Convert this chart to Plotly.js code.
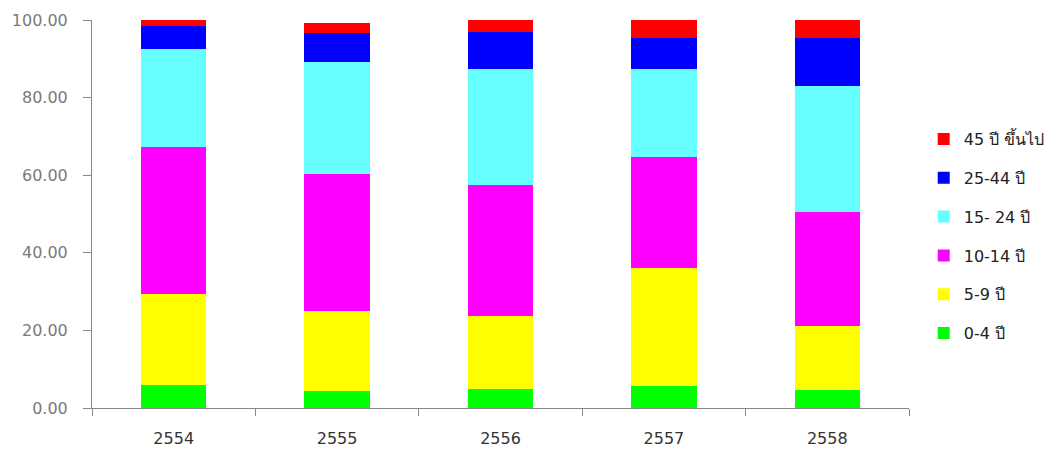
<!DOCTYPE html>
<html>
<head>
<meta charset="utf-8">
<script src="https://cdn.plot.ly/plotly-3.0.1.min.js"></script>
<style>html,body{margin:0;padding:0;background:#fff;}#chart{width:1049px;height:450px;}</style>
</head>
<body>
<div id="chart"></div>
<script>
var years = ["2554", "2555", "2556", "2557", "2558"];
var seriesNames = ["0-4 ปี", "5-9 ปี", "10-14 ปี", "15- 24 ปี", "25-44 ปี", "45 ปี ขึ้นไป"];
var age0_4   = [6.0, 4.5, 5.0, 5.7, 4.7];
var age5_9   = [23.5, 20.4, 18.8, 30.3, 16.5];
var age10_14 = [37.7, 35.4, 33.6, 28.8, 29.4];
var age15_24 = [25.3, 28.8, 30.0, 22.6, 32.5];
var age25_44 = [5.9, 7.6, 9.4, 8.0, 12.3];
var age45up  = [1.5, 2.5, 3.2, 4.6, 4.6];
var yTicks = [0, 20, 40, 60, 80, 100];

var seriesValues = [age0_4, age5_9, age10_14, age15_24, age25_44, age45up];
var colors = ["#00ff00", "#ffff00", "#ff00ff", "#66ffff", "#0000ff", "#ff0000"];

var traces = seriesValues.map(function (vals, i) {
  return {
    type: "bar",
    name: seriesNames[i],
    x: years,
    y: vals,
    legendgroup: "g" + i,
    legendrank: seriesValues.length - i,
    marker: {color: colors[i], line: {width: 0}},
    hoverinfo: "x+y+name"
  };
});

var layout = {
  width: 1049,
  height: 450,
  margin: {l: 92, r: 139.5, t: 20, b: 42, pad: 0, autoexpand: false},
  paper_bgcolor: "#ffffff",
  plot_bgcolor: "#ffffff",
  barmode: "stack",
  bargap: 0.6,
  font: {family: "DejaVu Sans, Noto Sans, sans-serif", color: "#333"},
  showlegend: true,
  legend: {
    x: 1.018, xanchor: "left",
    y: 0.443, yanchor: "middle",
    traceorder: "grouped",
    tracegroupgap: 15,
    font: {size: 16, color: "#222"},
    bgcolor: "rgba(0,0,0,0)"
  },
  xaxis: {
    type: "category",
    showgrid: false,
    showline: true,
    linecolor: "#888",
    linewidth: 1,
    ticks: "outside",
    tickson: "boundaries",
    ticklen: 7,
    tickcolor: "#888",
    tickfont: {size: 16, color: "#333"},
    ticklabelstandoff: 16,
    zeroline: false
  },
  yaxis: {
    range: [0, 100],
    tickvals: yTicks,
    tickformat: ".2f",
    showgrid: false,
    zeroline: false,
    showline: true,
    linecolor: "#888",
    linewidth: 1,
    ticks: "outside",
    ticklen: 8,
    tickcolor: "#888",
    tickfont: {size: 16, color: "#7a7a7a"},
    ticklabelstandoff: 12
  }
};

Plotly.newPlot("chart", traces, layout, {displayModeBar: false, staticPlot: true});
</script>
</body>
</html>
